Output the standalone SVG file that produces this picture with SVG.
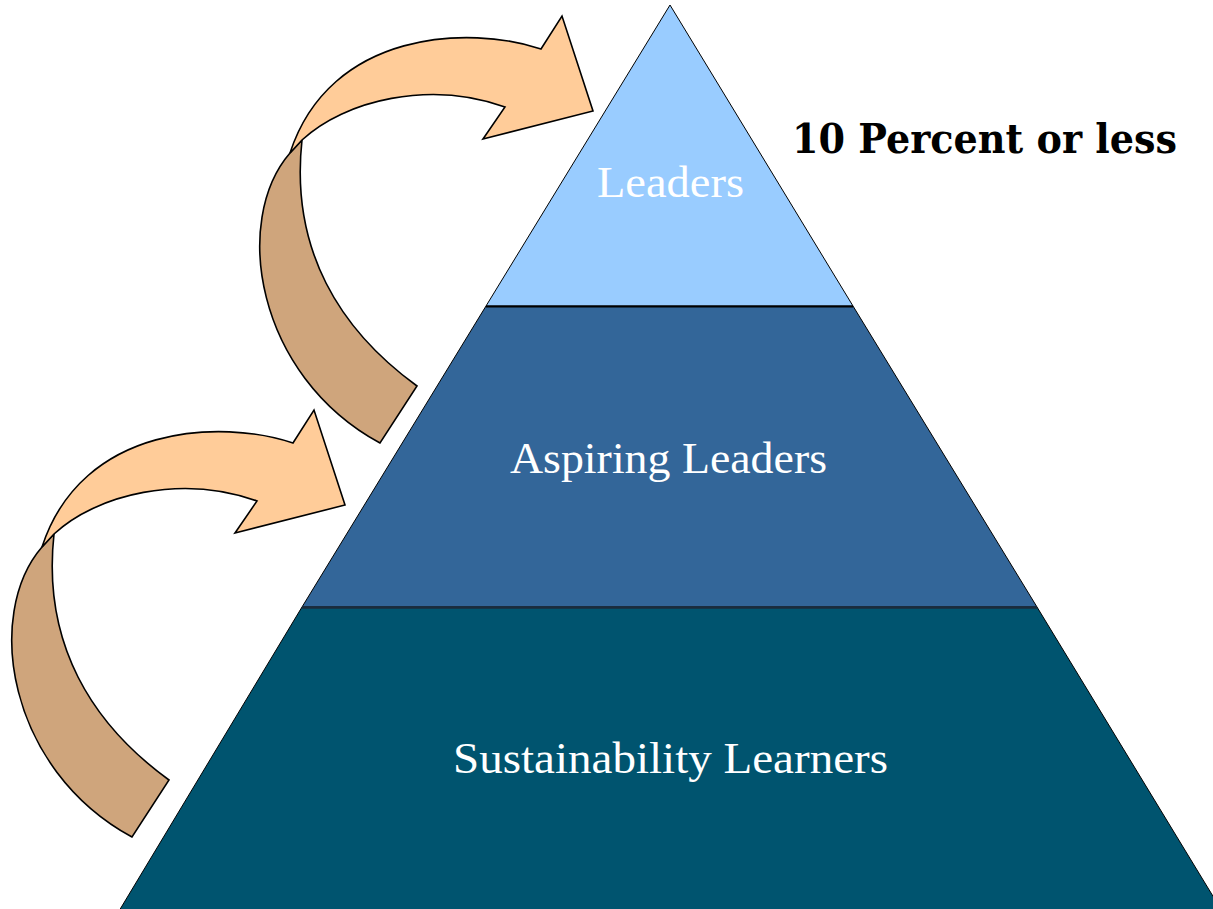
<svg xmlns="http://www.w3.org/2000/svg" xmlns:xlink="http://www.w3.org/1999/xlink" width="1213" height="909" viewBox="0 0 1213 909">
<style>
.lbl{font-family:"Liberation Serif","DejaVu Serif",serif;font-size:45px;fill:#ffffff;text-anchor:start}
.note{font-family:"DejaVu Serif","Liberation Serif",serif;font-weight:bold;font-size:41px;fill:#000000}
.arrow path{stroke:#000;stroke-width:1.6;stroke-linejoin:miter}
.front{fill:#FFCC99}
.back{fill:#CFA57C}
</style>
<defs>
<g id="curvedArrow" class="arrow">
<path class="back" d="M290,153 C232,220 255,375 380,443 L417,386 C340,330 290,250 302,140 Z"/>
<path class="front" d="M302,140 C345,100 430,80 505,107 L483,139 L593,111 L562,16 L541,49 C470,25 330,30 290,153 Z"/>
</g>
</defs>
<rect width="1213" height="909" fill="#ffffff"/>
<g id="tier-bottom">
<polygon points="302,607 1037,607 1222,911 119,911" fill="#00546F" stroke="#000" stroke-width="1"/>
<text class="lbl" x="453" y="773" textLength="435" lengthAdjust="spacingAndGlyphs">Sustainability Learners</text>
</g>
<g id="tier-middle">
<polygon points="486,306 853,306 1037,607 302,607" fill="#336699" stroke="#000" stroke-width="1"/>
<text class="lbl" x="510" y="473" textLength="317" lengthAdjust="spacingAndGlyphs">Aspiring Leaders</text>
</g>
<line x1="302" y1="607.5" x2="1037" y2="607.5" stroke="#1b2c3c" stroke-width="2.5"/>
<g id="tier-top">
<polygon points="670,5 853,306 486,306" fill="#99CCFF" stroke="#000" stroke-width="1"/>
<text class="lbl" x="597" y="197" textLength="147" lengthAdjust="spacingAndGlyphs">Leaders</text>
</g>
<line x1="486" y1="306.5" x2="853" y2="306.5" stroke="#000" stroke-width="2"/>
<g id="note">
<text class="note" x="792" y="153" textLength="385" lengthAdjust="spacingAndGlyphs">10 Percent or less</text>
</g>
<g id="connectors">
<use id="arrow-top" xlink:href="#curvedArrow"/>
<use id="arrow-bottom" xlink:href="#curvedArrow" transform="translate(-248,394)"/>
</g>
</svg>
